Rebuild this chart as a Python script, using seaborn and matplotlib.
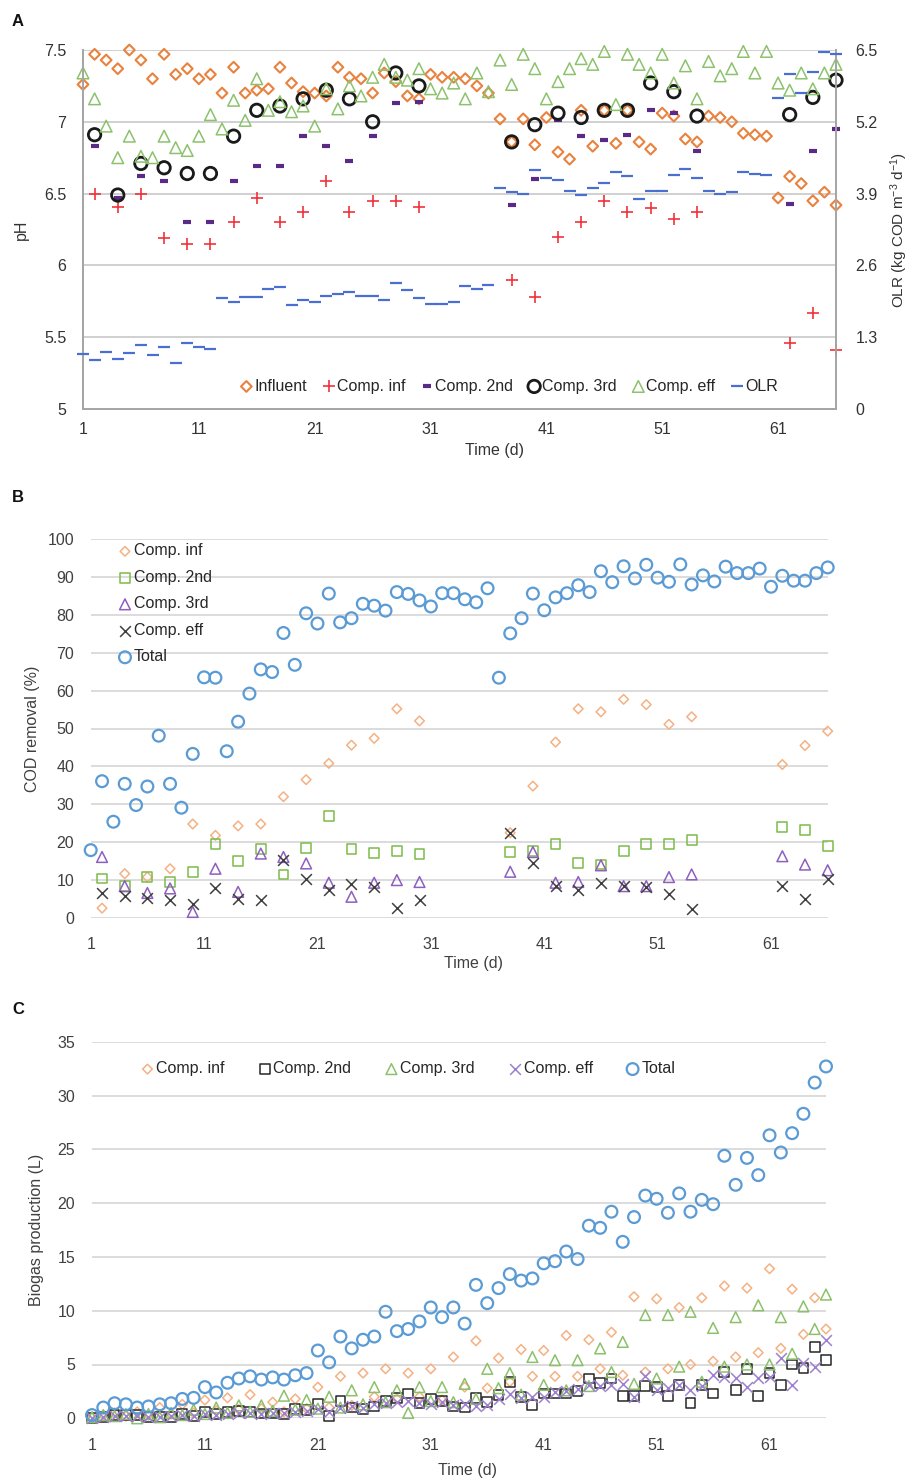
import numpy as np
import matplotlib
matplotlib.use('Agg')
import matplotlib.pyplot as plt
import seaborn as sns

sns.set_theme(style='white')
plt.rcParams['font.family'] = ['Liberation Sans', 'DejaVu Sans']
plt.rcParams['mathtext.default'] = 'regular'

# ---------------- data ----------------
days = list(range(1, 67))
sample_days = [2, 4, 6, 8, 10, 12, 14, 16, 18, 20, 22, 24, 26, 28, 30,
               38, 40, 42, 44, 46, 48, 50, 52, 54, 62, 64, 66]

# Panel A: pH and OLR
ph_influent = [7.26, 7.47, 7.43, 7.37, 7.50, 7.43, 7.30, 7.47, 7.33, 7.37,
               7.30, 7.33, 7.20, 7.38, 7.20, 7.22, 7.23, 7.38, 7.27, 7.21,
               7.20, 7.18, 7.38, 7.31, 7.30, 7.20, 7.34, 7.28, 7.18, 7.16,
               7.33, 7.31, 7.31, 7.30, 7.25, 7.20, 7.02, 6.86, 7.02, 6.84,
               7.03, 6.79, 6.74, 7.08, 6.83, 7.08, 6.85, 7.08, 6.86, 6.81,
               7.06, 7.04, 6.88, 6.86, 7.04, 7.03, 7.00, 6.92, 6.91, 6.90,
               6.47, 6.62, 6.57, 6.45, 6.51, 6.42]
ph_comp_eff = [7.34, 7.16, 6.97, 6.75, 6.90, 6.76, 6.75, 6.90, 6.82, 6.80,
               6.90, 7.05, 6.95, 7.15, 7.01, 7.30, 7.08, 7.14, 7.07, 7.11,
               6.97, 7.23, 7.09, 7.25, 7.18, 7.31, 7.40, 7.31, 7.29, 7.37,
               7.23, 7.20, 7.27, 7.16, 7.34, 7.21, 7.43, 7.26, 7.47, 7.37,
               7.16, 7.28, 7.37, 7.44, 7.40, 7.49, 7.12, 7.47, 7.40, 7.34,
               7.47, 7.27, 7.39, 7.16, 7.42, 7.32, 7.37, 7.49, 7.34, 7.49,
               7.27, 7.22, 7.34, 7.23, 7.34, 7.40]
olr = [0.99, 0.89, 1.04, 0.90, 1.02, 1.16, 0.98, 1.13, 0.83, 1.19,
       1.13, 1.08, 2.01, 1.94, 2.03, 2.03, 2.17, 2.21, 1.88, 1.97,
       1.93, 2.05, 2.08, 2.11, 2.04, 2.05, 1.97, 2.29, 2.16, 2.01,
       1.90, 1.90, 1.94, 2.23, 2.17, 2.24, 4.00, 3.92, 3.90, 4.32,
       4.19, 4.14, 3.95, 3.87, 4.01, 4.10, 4.29, 4.22, 3.80, 3.94,
       3.95, 4.23, 4.34, 4.19, 3.95, 3.90, 3.92, 4.30, 4.25, 4.23,
       5.63, 6.06, 5.72, 6.11, 6.47, 6.43]
ph_comp_inf = [6.50, 6.41, 6.50, 6.19, 6.15, 6.15, 6.30, 6.47, 6.30, 6.37,
               6.59, 6.37, 6.45, 6.45, 6.41, 5.90, 5.78, 6.20, 6.30, 6.45,
               6.37, 6.40, 6.32, 6.37, 5.46, 5.67, 5.41]
ph_comp_2nd = [6.83, 6.47, 6.62, 6.59, 6.30, 6.30, 6.59, 6.69, 6.69, 6.90,
               6.83, 6.73, 6.90, 7.13, 7.14, 6.42, 6.60, 7.01, 6.90, 6.87,
               6.91, 7.08, 7.06, 6.80, 6.43, 6.80, 6.95]
ph_comp_3rd = [6.91, 6.49, 6.71, 6.68, 6.64, 6.64, 6.90, 7.08, 7.11, 7.16,
               7.22, 7.16, 7.00, 7.34, 7.25, 6.86, 6.98, 7.06, 7.03, 7.08,
               7.08, 7.27, 7.21, 7.04, 7.05, 7.17, 7.29]

# Panel B: COD removal (%)
cod_total = [17.9, 36.1, 25.4, 35.4, 29.8, 34.7, 48.1, 35.4, 29.1, 43.3,
             63.5, 63.4, 44.0, 51.8, 59.2, 65.6, 64.9, 75.2, 66.8, 80.4,
             77.7, 85.6, 78.0, 79.1, 82.9, 82.4, 81.1, 86.0, 85.5, 83.8,
             82.2, 85.7, 85.7, 84.1, 83.3, 87.0, 63.4, 75.1, 79.1, 85.6,
             81.2, 84.6, 85.7, 87.8, 86.0, 91.5, 88.6, 92.8, 89.6, 93.2,
             89.8, 88.7, 93.3, 88.0, 90.4, 88.8, 92.7, 91.0, 91.0, 92.2,
             87.4, 90.3, 89.0, 89.0, 91.0, 92.5]
cod_comp_inf = [2.6, 11.7, 10.8, 13.0, 24.8, 21.8, 24.3, 24.8, 32.0, 36.5,
                40.8, 45.6, 47.4, 55.2, 52.0, 22.5, 34.8, 46.4, 55.2, 54.4,
                57.7, 56.3, 51.1, 53.1, 40.5, 45.5, 49.3]
cod_comp_2nd = [10.4, 8.5, 10.8, 9.5, 12.2, 19.5, 15.0, 18.3, 11.5, 18.5,
                26.9, 18.3, 17.2, 17.6, 16.8, 17.4, 17.7, 19.5, 14.5, 14.1,
                17.7, 19.6, 19.6, 20.5, 24.1, 23.3, 19.0]
cod_comp_3rd = [16.1, 8.4, 6.6, 7.8, 1.6, 13.0, 6.9, 17.0, 16.1, 14.4,
                9.3, 5.6, 9.3, 10.0, 9.5, 12.2, 17.4, 9.3, 9.5, 13.9,
                8.4, 8.4, 10.8, 11.5, 16.3, 14.1, 12.6]
cod_comp_eff = [6.6, 5.8, 5.3, 4.7, 3.8, 8.0, 5.1, 4.7, 15.4, 10.4,
                7.5, 9.1, 8.2, 2.6, 4.8, 22.3, 14.6, 8.4, 7.5, 9.3,
                8.4, 8.2, 6.4, 2.3, 8.4, 5.1, 10.4]

# Panel C: biogas production (L)
gas_total = [0.3, 1.0, 1.4, 1.3, 1.0, 1.1, 1.3, 1.4, 1.8, 1.9,
             2.9, 2.4, 3.3, 3.7, 3.9, 3.6, 3.8, 3.6, 4.0, 4.2,
             6.3, 5.2, 7.6, 6.5, 7.3, 7.6, 9.9, 8.1, 8.3, 9.0,
             10.3, 9.4, 10.3, 8.8, 12.4, 10.7, 12.1, 13.4, 12.8, 13.0,
             14.4, 14.6, 15.5, 14.8, 17.9, 17.7, 19.2, 16.4, 18.7, 20.7,
             20.4, 19.1, 20.9, 19.2, 20.3, 19.9, 24.4, 21.7, 24.2, 22.6,
             26.3, 24.7, 26.5, 28.3, 31.2, 32.7]
gas_comp_inf = [0.1, 0.3, 0.5, 0.2, 0.6, 0.3, 1.0, 0.4, 1.3, 0.5,
                1.7, 0.7, 1.9, 0.8, 2.2, 0.9, 1.5, 0.6, 1.8, 0.9,
                2.9, 1.0, 3.9, 1.2, 4.2, 2.0, 4.6, 1.8, 4.2, 2.0,
                4.6, 1.7, 5.7, 2.9, 7.2, 2.8, 5.6, 3.4, 6.4, 3.9,
                6.3, 3.9, 7.7, 3.9, 7.3, 4.6, 8.0, 4.0, 11.3, 4.3,
                11.1, 4.6, 10.3, 5.0, 11.2, 5.3, 12.3, 5.7, 12.1, 6.1,
                13.9, 6.5, 12.0, 7.8, 11.2, 8.3]
gas_comp_2nd = [0.0, 0.15, 0.3, 0.3, 0.3, 0.15, 0.15, 0.15, 0.4, 0.2,
                0.55, 0.4, 0.55, 0.7, 0.6, 0.45, 0.45, 0.4, 0.85, 0.8,
                1.3, 0.25, 1.6, 1.0, 0.9, 1.1, 1.6, 1.9, 2.3, 1.4,
                1.8, 1.6, 1.1, 1.0, 1.9, 1.5, 2.2, 3.4, 2.0, 1.2,
                2.3, 2.3, 2.3, 2.5, 3.7, 3.3, 3.7, 2.1, 2.1, 3.0,
                2.9, 2.1, 3.1, 1.4, 3.1, 2.3, 4.3, 2.6, 4.6, 2.1,
                4.2, 3.1, 5.0, 4.7, 6.6, 5.4]
gas_comp_3rd = [0.1, 0.3, 0.2, 0.4, 0.0, 0.4, 0.1, 0.5, 0.3, 0.8,
                0.4, 1.0, 0.5, 1.2, 0.6, 1.2, 0.7, 2.1, 0.8, 1.7,
                0.9, 2.0, 1.0, 2.6, 1.3, 2.9, 1.5, 2.6, 0.5, 2.9,
                1.6, 2.9, 1.5, 3.2, 1.8, 4.6, 2.8, 4.2, 2.2, 5.7,
                3.1, 5.4, 2.6, 5.4, 3.0, 6.5, 4.3, 7.1, 3.2, 9.6,
                3.7, 9.6, 4.8, 9.9, 3.4, 8.4, 4.8, 9.4, 5.0, 10.5,
                5.0, 9.4, 6.0, 10.4, 8.3, 11.5]
gas_comp_eff = [0.05, 0.1, 0.2, 0.2, 0.2, 0.1, 0.1, 0.2, 0.3, 0.2,
                0.4, 0.3, 0.4, 0.5, 0.5, 0.4, 0.5, 0.5, 0.6, 0.7,
                0.9, 0.6, 1.0, 1.1, 1.0, 1.3, 1.4, 1.5, 1.6, 1.4,
                1.3, 1.5, 1.2, 1.3, 1.1, 1.2, 1.8, 2.3, 1.9, 2.0,
                2.0, 2.4, 2.5, 2.7, 3.1, 3.0, 3.1, 3.2, 2.0, 3.9,
                2.6, 2.8, 3.1, 2.6, 3.0, 4.0, 3.8, 3.7, 2.9, 3.7,
                3.8, 5.6, 3.1, 5.1, 4.8, 7.3]

xticks = [1, 11, 21, 31, 41, 51, 61]
FS = 11.5
TXT = '#404040'


def points(ax, x, y, label, marker, color, s, lw):
    # open markers keep a white centre, line markers take the colour directly
    if marker in ('o', 'D', 's', '^'):
        sns.scatterplot(x=x, y=y, ax=ax, marker=marker, s=s, facecolor='none',
                        edgecolor=color, linewidth=lw, label=label,
                        clip_on=False, zorder=3)
    else:
        sns.scatterplot(x=x, y=y, ax=ax, marker=marker, s=s, color=color,
                        linewidth=lw, label=label, clip_on=False, zorder=3)


def excel_axes(ax, ymax, ystep, grid_col='#D9D9D9'):
    ax.set_xlim(1, 66)
    ax.set_ylim(0, ymax)
    ax.set_xticks(xticks)
    ax.set_yticks(np.arange(0, ymax + 0.1, ystep))
    ax.yaxis.grid(True, color=grid_col, linewidth=1.3)
    ax.xaxis.grid(False)
    ax.set_axisbelow(True)
    for sp in ax.spines.values():
        sp.set_visible(False)
    ax.tick_params(axis='both', length=0, labelsize=FS, labelcolor=TXT)
    ax.tick_params(axis='x', pad=14)
    ax.tick_params(axis='y', pad=12)


fig = plt.figure(figsize=(9.09, 14.83), dpi=100)

# ---------------- panel A ----------------
axA = fig.add_axes([83 / 909, 1 - 409 / 1483, 753 / 909, 359 / 1483])
axA2 = axA.twinx()

points(axA, days, ph_influent, 'Influent', 'D', '#E8823E', 30, 1.5)
points(axA, sample_days, ph_comp_inf, 'Comp. inf', '+', '#F0323C', 75, 1.2)
points(axA, sample_days, ph_comp_2nd, 'Comp. 2nd', '_', '#5A2A86', 36, 3.0)
points(axA, sample_days, ph_comp_3rd, 'Comp. 3rd', 'o', '#1A1A1A', 80, 2.0)
points(axA, days, ph_comp_eff, 'Comp. eff', '^', '#8CC26C', 70, 1.1)
points(axA2, days, olr, 'OLR', '_', '#4A6FD0', 70, 1.6)

axA.set_xlim(1, 66)
axA.set_ylim(5, 7.5)
axA.set_yticks([5, 5.5, 6, 6.5, 7, 7.5])
axA.set_yticklabels(['5', '5.5', '6', '6.5', '7', '7.5'])
axA.set_xticks(xticks)
axA.yaxis.grid(True, color='#C8C8C8', linewidth=1.2)
axA.xaxis.grid(False)
axA.set_axisbelow(True)
axA2.set_ylim(0, 6.5)
axA2.set_yticks([0, 1.3, 2.6, 3.9, 5.2, 6.5])
axA2.set_yticklabels(['0', '1.3', '2.6', '3.9', '5.2', '6.5'])
axA2.grid(False)
for a in (axA, axA2):
    a.spines['top'].set_visible(False)
    for side in ('left', 'right', 'bottom'):
        a.spines[side].set_color('#A6A6A6')
        a.spines[side].set_linewidth(1.3)
axA.tick_params(axis='y', length=0, pad=12, labelsize=FS, labelcolor='#333333')
axA.tick_params(axis='x', length=5, width=1.2, color='#A6A6A6', direction='out',
                pad=4, labelsize=FS, labelcolor='#333333')
axA2.tick_params(axis='y', length=0, pad=14, labelsize=FS, labelcolor='#333333')
axA.set_ylabel('pH', fontsize=FS, color='#333333')
axA.yaxis.set_label_coords(-0.072, 0.5)
axA2.set_ylabel('OLR (kg COD m$^{-3}$ d$^{-1}$)', fontsize=11, color='#333333')
axA2.yaxis.set_label_coords(1.07, 0.5)
axA.set_xlabel('Time (d)', fontsize=FS, color='#333333')
axA.xaxis.set_label_coords(0.546, -0.095)
if axA.get_legend():
    axA.get_legend().remove()
hA, lA = axA.get_legend_handles_labels()
hA2, lA2 = axA2.get_legend_handles_labels()
axA2.legend(hA + hA2, lA + lA2, loc='lower center', bbox_to_anchor=(0.565, 0.025),
            ncol=6, frameon=False, handletextpad=0.05, columnspacing=0.9,
            handlelength=0.9, fontsize=FS, borderaxespad=0)

# ---------------- panel B ----------------
axB = fig.add_axes([90.7 / 909, 1 - 918 / 1483, 737 / 909, 379 / 1483])
points(axB, sample_days, cod_comp_inf, 'Comp. inf', 'D', '#F4B183', 24, 1.1)
points(axB, sample_days, cod_comp_2nd, 'Comp. 2nd', 's', '#7DBB4B', 50, 1.1)
points(axB, sample_days, cod_comp_3rd, 'Comp. 3rd', '^', '#8E5FBF', 60, 1.1)
points(axB, sample_days, cod_comp_eff, 'Comp. eff', 'x', '#3F3F3F', 60, 1.1)
points(axB, days, cod_total, 'Total', 'o', '#5B9BD5', 72, 1.6)
excel_axes(axB, 100, 10)
axB.set_ylabel('COD removal (%)', fontsize=FS, color=TXT)
axB.yaxis.set_label_coords(-0.069, 0.5)
axB.set_xlabel('Time (d)', fontsize=FS, color=TXT)
axB.xaxis.set_label_coords(0.52, -0.1)
axB.legend(loc='upper left', bbox_to_anchor=(0.027, 1.005), ncol=1, frameon=False,
           handletextpad=0.05, labelspacing=0.72, handlelength=1.0,
           fontsize=FS, borderaxespad=0)

# ---------------- panel C ----------------
axC = fig.add_axes([92 / 909, 1 - 1418.3 / 1483, 734 / 909, 376.6 / 1483])
points(axC, days, gas_comp_inf, 'Comp. inf', 'D', '#F4B183', 24, 1.1)
points(axC, days, gas_comp_2nd, 'Comp. 2nd', 's', '#262626', 50, 1.1)
points(axC, days, gas_comp_3rd, 'Comp. 3rd', '^', '#8CC06A', 60, 1.1)
points(axC, days, gas_comp_eff, 'Comp. eff', 'x', '#9D80D0', 60, 1.1)
points(axC, days, gas_total, 'Total', 'o', '#5B9BD5', 72, 1.6)
excel_axes(axC, 35, 5)
axC.set_ylabel('Biogas production (L)', fontsize=FS, color=TXT)
axC.yaxis.set_label_coords(-0.065, 0.5)
axC.set_xlabel('Time (d)', fontsize=FS, color=TXT)
axC.xaxis.set_label_coords(0.512, -0.12)
axC.legend(loc='upper left', bbox_to_anchor=(0.056, 0.965), ncol=5, frameon=False,
           handletextpad=0.05, columnspacing=2.0, handlelength=1.0,
           fontsize=FS, borderaxespad=0)

# panel letters
for letter, ypx in (('A', 22), ('B', 497), ('C', 1010)):
    fig.text(12 / 909, 1 - ypx / 1483, letter, fontsize=12, fontweight='bold',
             color='#111111', va='center', ha='left')

fig.savefig('out.png', dpi=100, facecolor='white')
